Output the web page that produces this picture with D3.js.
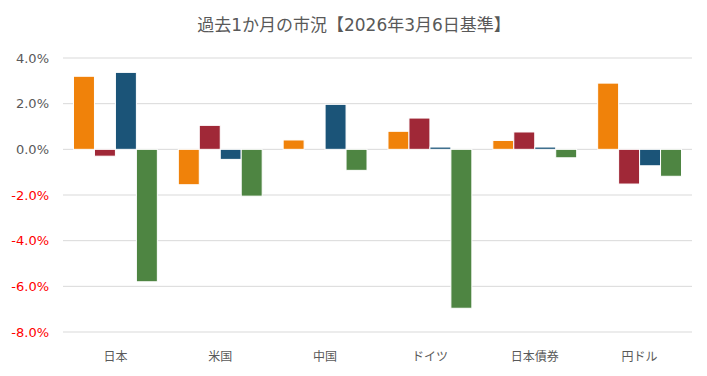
<!DOCTYPE html>
<html>
<head>
<meta charset="utf-8">
<script src="https://cdn.jsdelivr.net/npm/d3@7"></script>
<style>
  body { margin: 0; background: #fff; }
  text { font-family: "DejaVu Sans", "Noto Sans CJK JP", sans-serif; }
</style>
</head>
<body>
<script>
const width = 707;
const height = 376;
const margin = { top: 58, right: 15, bottom: 44, left: 63 };
const innerWidth = width - margin.left - margin.right;
const innerHeight = height - margin.top - margin.bottom;

const titleText = "過去1か月の市況【2026年3月6日基準】";
const categories = ["日本", "米国", "中国", "ドイツ", "日本債券", "円ドル"];
const seriesKeys = ["s1", "s2", "s3", "s4"];
const seriesColors = ["#F0820A", "#A02837", "#1B5478", "#4E8542"];

// values in %, one array per series
const s1 = [3.2, -1.55, 0.41, 0.79, 0.39, 2.9];
const s2 = [-0.3, 1.05, 0.0, 1.37, 0.76, -1.52];
const s3 = [3.37, -0.44, 1.97, 0.1, 0.1, -0.72];
const s4 = [-5.8, -2.05, -0.92, -6.96, -0.37, -1.18];
const seriesValues = [s1, s2, s3, s4];

const yTicks = [4, 2, 0, -2, -4, -6, -8];

const svg = d3.select("body").append("svg")
    .attr("width", width)
    .attr("height", height);

svg.append("text")
    .attr("x", 354)
    .attr("y", 31)
    .attr("text-anchor", "middle")
    .attr("font-size", 17)
    .attr("fill", "#595959")
    .text(titleText);

const g = svg.append("g").attr("transform", `translate(${margin.left},${margin.top})`);

const xScale = d3.scaleBand().domain(categories).range([0, innerWidth]).paddingInner(0.2).paddingOuter(0.1);
const xInner = d3.scaleBand().domain(seriesKeys).range([0, xScale.bandwidth()]).padding(0);
const yScale = d3.scaleLinear().domain([-8, 4]).range([innerHeight, 0]);

// gridlines
g.append("g")
  .selectAll("line")
  .data(yTicks)
  .join("line")
    .attr("x1", 0)
    .attr("x2", innerWidth)
    .attr("y1", d => yScale(d))
    .attr("y2", d => yScale(d))
    .attr("stroke", "#d9d9d9")
    .attr("stroke-width", 1);

// y labels
g.append("g")
  .selectAll("text")
  .data(yTicks)
  .join("text")
    .attr("x", -14)
    .attr("y", d => yScale(d))
    .attr("dy", "0.35em")
    .attr("text-anchor", "end")
    .attr("font-size", 13)
    .attr("fill", d => d < 0 ? "#FF0000" : "#595959")
    .text(d => d.toFixed(1) + "%");

// bars
const rows = [];
categories.forEach((c, i) => {
  seriesKeys.forEach((k, j) => {
    rows.push({ cat: c, key: k, value: seriesValues[j][i], color: seriesColors[j] });
  });
});

g.append("g")
  .selectAll("rect")
  .data(rows.filter(d => d.value !== 0))
  .join("rect")
    .attr("x", d => xScale(d.cat) + xInner(d.key))
    .attr("width", xInner.bandwidth())
    .attr("y", d => yScale(Math.max(0, d.value)))
    .attr("height", d => Math.abs(yScale(d.value) - yScale(0)))
    .attr("fill", d => d.color)
    .attr("stroke", "#fff")
    .attr("stroke-width", 1);

// x labels
g.append("g")
  .selectAll("text")
  .data(categories)
  .join("text")
    .attr("x", d => xScale(d) + xScale.bandwidth() / 2)
    .attr("y", innerHeight + 29)
    .attr("text-anchor", "middle")
    .attr("font-size", 12)
    .attr("fill", "#595959")
    .text(d => d);
</script>
</body>
</html>
